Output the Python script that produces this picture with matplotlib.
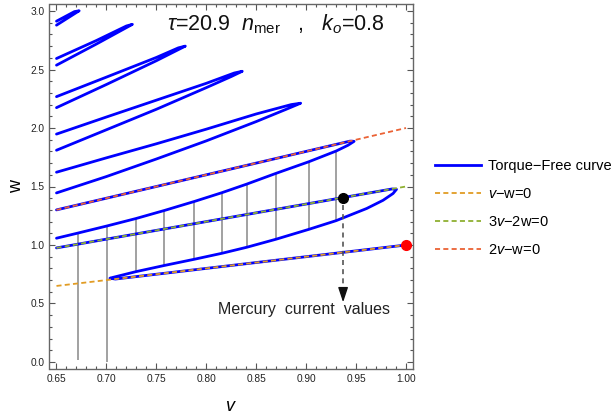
import matplotlib
matplotlib.use('Agg')
import matplotlib.pyplot as plt
from matplotlib.lines import Line2D

plt.rcParams['font.family'] = ['Liberation Sans', 'DejaVu Sans']
plt.rcParams['mathtext.fontset'] = 'custom'
plt.rcParams['mathtext.rm'] = 'Liberation Sans'
plt.rcParams['mathtext.it'] = 'Liberation Sans:italic'
plt.rcParams['mathtext.bf'] = 'Liberation Sans:bold'

# ---------------- data ----------------
# torque-free curve pieces (v, w)
s_curve_v = [1.000, 0.900, 0.800, 0.720, 0.709, 0.7035, 0.706, 0.7295, 0.758, 0.788, 0.8156,
             0.8407, 0.8697, 0.9028, 0.930, 0.9606, 0.977, 0.987, 0.9905, 0.986, 0.980, 0.900, 0.800,
             0.700, 0.650]
s_curve_w = [1.000, 0.900, 0.800, 0.720, 0.709, 0.716, 0.722, 0.772, 0.825, 0.878, 0.929,
             0.981, 1.049, 1.134, 1.208, 1.312, 1.382, 1.440, 1.476, 1.479, 1.470, 1.350, 1.200,
             1.050, 0.975]

loop2_v = [0.650, 0.672, 0.7007, 0.7295, 0.758, 0.788, 0.8156, 0.8407, 0.8697, 0.9028, 0.930, 0.942,
           0.948, 0.944, 0.900, 0.800, 0.700, 0.650]
loop2_w = [1.058, 1.103, 1.163, 1.226, 1.295, 1.372, 1.447, 1.521, 1.612, 1.712, 1.803, 1.853,
           1.886, 1.888, 1.800, 1.600, 1.400, 1.300]

loop3_v = [0.650, 0.700, 0.750, 0.800, 0.850, 0.880, 0.8945, 0.885, 0.850, 0.800, 0.750, 0.700, 0.650]
loop3_w = [1.445, 1.585, 1.735, 1.890, 2.055, 2.160, 2.212, 2.200, 2.120, 1.990, 1.865, 1.745, 1.622]

loop4_v = [0.650, 0.700, 0.750, 0.800, 0.825, 0.836, 0.828, 0.800, 0.750, 0.700, 0.650]
loop4_w = [1.810, 1.985, 2.160, 2.345, 2.440, 2.485, 2.470, 2.382, 2.238, 2.094, 1.948]

loop5_v = [0.650, 0.700, 0.750, 0.779, 0.772, 0.750, 0.700, 0.650]
loop5_w = [2.174, 2.372, 2.575, 2.700, 2.685, 2.603, 2.435, 2.268]

loop6_v = [0.650, 0.690, 0.726, 0.720, 0.690, 0.650]
loop6_w = [2.537, 2.718, 2.886, 2.872, 2.748, 2.594]

loop7_v = [0.650, 0.6727, 0.668, 0.650]
loop7_w = [2.879, 3.002, 2.995, 2.913]

loops_v = [s_curve_v, loop2_v, loop3_v, loop4_v, loop5_v, loop6_v, loop7_v]
loops_w = [s_curve_w, loop2_w, loop3_w, loop4_w, loop5_w, loop6_w, loop7_w]

# resonance lines (end points)
line_v = [0.65, 1.00]
line_vw_w = [0.65, 1.00]      # v - w = 0
line_3v2w_w = [0.975, 1.50]   # 3v - 2w = 0
line_2vw_w = [1.30, 2.00]     # 2v - w = 0

# vertical grey segments
seg_v = [0.672, 0.7007, 0.7295, 0.758, 0.788, 0.8156, 0.8407, 0.8697, 0.9028, 0.930]
seg_lo = [0.02, 0.00, 0.775, 0.828, 0.881, 0.932, 0.984, 1.052, 1.137, 1.210]
seg_hi = [1.103, 1.163, 1.226, 1.295, 1.372, 1.447, 1.521, 1.612, 1.712, 1.803]

# special points
mercury_v, mercury_w = 0.937, 1.405
arrow_end_w = 0.51
red_v, red_w = 1.0, 1.0

x_ticks = [0.65, 0.70, 0.75, 0.80, 0.85, 0.90, 0.95, 1.00]
x_ticklabels = ['0.65', '0.70', '0.75', '0.80', '0.85', '0.90', '0.95', '1.00']
y_ticks = [0.0, 0.5, 1.0, 1.5, 2.0, 2.5, 3.0]
y_ticklabels = ['0.0', '0.5', '1.0', '1.5', '2.0', '2.5', '3.0']

legend_labels = ['Torque\u2212Free curve', '$v$\u2212w=0', '3$v$\u22122w=0', '2$v$\u2212w=0']

# ---------------- style ----------------
BLUE = '#0000ff'
ORANGE = '#E19C24'
GREEN = '#8FB032'
RED = '#EB6235'
GREY = '#9a9a9a'
dash = (0, (2.8, 1.8))

fig = plt.figure(figsize=(6.14, 4.16), dpi=100)
ax = fig.add_axes([49.5 / 614, 47 / 416, (413 - 49.5) / 614, (369 - 4) / 416])

ax.vlines(seg_v, seg_lo, seg_hi, colors=GREY, lw=1.3, zorder=1)

for vv, ww in zip(loops_v, loops_w):
    ax.plot(vv, ww, color=BLUE, lw=2.0, solid_joinstyle='round', solid_capstyle='round', zorder=2)

ax.plot(line_v, line_vw_w, color=ORANGE, lw=1.3, ls=dash, zorder=3)
ax.plot(line_v, line_3v2w_w, color=GREEN, lw=1.3, ls=dash, zorder=3)
ax.plot(line_v, line_2vw_w, color=RED, lw=1.3, ls=dash, zorder=3)

# Mercury arrow
ax.plot([mercury_v, mercury_v], [mercury_w - 0.06, arrow_end_w + 0.08], color='#555555', lw=1.2,
        ls=(0, (3, 2.5)), zorder=3)
ax.annotate('', xy=(mercury_v, arrow_end_w), xytext=(mercury_v, arrow_end_w + 0.12),
            arrowprops=dict(arrowstyle='-|>,head_length=0.9,head_width=0.3', color='#111111', lw=1.0,
                            shrinkA=0, shrinkB=0), zorder=4)
ax.plot([mercury_v], [mercury_w], 'o', color='black', ms=7, zorder=5)
ax.plot([red_v], [red_w], 'o', color='red', ms=7, zorder=5, clip_on=False)

ax.text(0.898, 0.446, 'Mercury  current  values', fontsize=11.5, ha='center', va='center', color='#222222')
ax.text(0.8697, 2.888, r'$\tau$=20.9  $n_{\mathrm{mer}}$   ,   $k_o$=0.8', fontsize=15.5,
        ha='center', va='center', color='#111111')

ax.set_xlim(0.643, 1.007)
ax.set_ylim(-0.06, 3.06)
ax.set_xticks(x_ticks)
ax.set_xticklabels(x_ticklabels)
ax.set_yticks(y_ticks)
ax.set_yticklabels(y_ticklabels)
ax.set_xticks([0.65 + 0.01 * i for i in range(36)], minor=True)
ax.set_yticks([0.1 * i for i in range(31)], minor=True)
ax.tick_params(which='both', direction='in', top=True, right=True, color='#555555',
               labelsize=7.3, labelcolor='#222222', width=0.8)
ax.tick_params(which='major', length=4.5)
ax.tick_params(which='minor', length=2.5)
for sp in ax.spines.values():
    sp.set_color('#666666')
    sp.set_linewidth(1.0)

ax.set_xlabel('$v$', fontsize=13, labelpad=10)
ax.set_ylabel('w', fontsize=13, labelpad=4)

handles = [Line2D([], [], color=BLUE, lw=2.0),
           Line2D([], [], color=ORANGE, lw=1.3, ls=dash),
           Line2D([], [], color=GREEN, lw=1.3, ls=dash),
           Line2D([], [], color=RED, lw=1.3, ls=dash)]
fig.legend(handles, legend_labels, loc='upper left', bbox_to_anchor=(435 / 614, 1 - 159 / 416),
           frameon=False, fontsize=10.5, handlelength=3.15, handletextpad=0.5, labelspacing=0.97,
           borderpad=0, borderaxespad=0)

fig.savefig('out.png', dpi=100)
